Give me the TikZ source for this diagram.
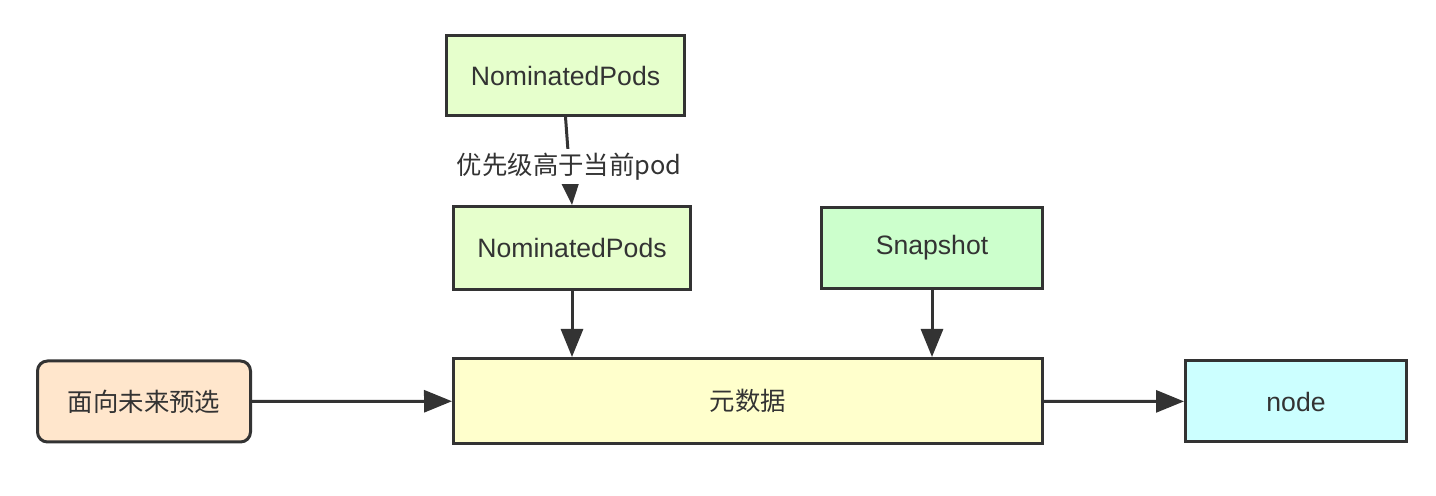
\documentclass[tikz,border=0pt]{standalone}
\usepackage{fontspec}
\setmainfont{Liberation Sans}
\newfontfamily\cjk{Noto Sans CJK SC}
\usetikzlibrary{arrows.meta,positioning}
\definecolor{pgreen}{HTML}{E6FFCC}
\definecolor{pmint}{HTML}{CCFFCC}
\definecolor{pyellow}{HTML}{FFFFCC}
\definecolor{porange}{HTML}{FFE6CC}
\definecolor{pcyan}{HTML}{CCFFFF}
\definecolor{pline}{HTML}{333333}
\tikzset{
  % Flat pastel box with a dark outline.
  blk/.style   = {rectangle, draw=pline, fill=#1, line width=1.5pt, align=center,
                  text=pline, inner sep=0pt, font=\fontsize{13.3}{16}\selectfont},
  blk/.default = pgreen,
  arr/.style   = {-{Triangle[length=14pt,width=11pt]}, line width=1.5pt, pline},
  tag/.style   = {fill=white, text=pline, inner sep=2pt, font=\cjk\fontsize{12.7}{15}\selectfont},
}

\begin{document}
\begin{tikzpicture}[x=0.5pt,y=-0.5pt]
\useasboundingbox (0,0) rectangle (1436,496);
% ---- candidate pods -------------------------------------------------
\node[blk=pgreen, minimum width=119pt, minimum height=40pt] (np1) at (565.5,75.5) {NominatedPods};
\node[blk=pgreen, minimum width=118.5pt, minimum height=41.5pt] (np2) at (572,248) {NominatedPods};
\node[blk=pmint, minimum width=110.5pt, minimum height=40.5pt] (snap) at (932,248) {Snapshot};

% ---- main row -------------------------------------------------------
\node[blk=porange, rounded corners=5pt, minimum width=106.5pt, minimum height=40.5pt,
      font=\cjk\fontsize{12.7}{15}\selectfont] (future) at (144,401.5) {面向未来预选};
\node[blk=pyellow, minimum width=294.5pt, minimum height=42.5pt,
      font=\cjk\fontsize{12.7}{15}\selectfont] (meta) at (748,401) {元数据};
\node[blk=pcyan, minimum width=110.5pt, minimum height=40.5pt] (nd) at (1296,401.5) {node};

% ---- connectors -----------------------------------------------------
\draw[arr] (np1.south) -- (np2.north) node[pos=0.56, tag] {优先级高于当前pod};
\draw[arr] (np2.south) -- (np2.south |- meta.north);
\draw[arr] (snap.south) -- (snap.south |- meta.north);
\draw[arr] (future) -- (meta);
\draw[arr] (meta) -- (nd);
\end{tikzpicture}
\end{document}
